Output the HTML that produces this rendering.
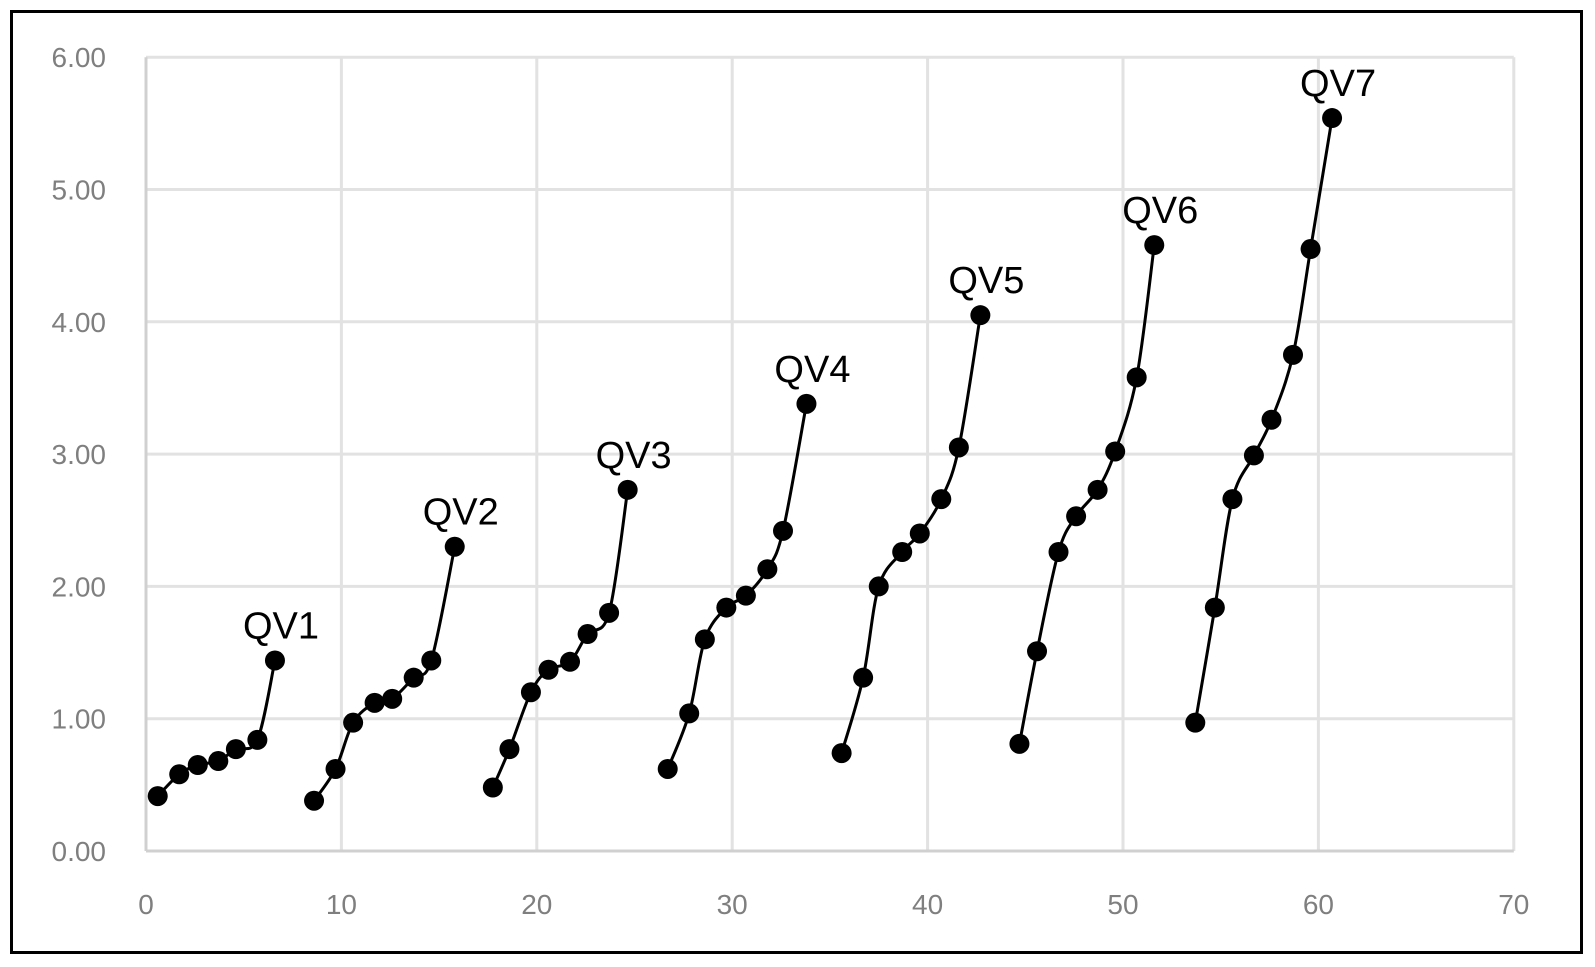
<!DOCTYPE html>
<html><head><meta charset="utf-8"><style>
html,body{margin:0;padding:0;background:#fff;}
svg{display:block;}
text{font-family:"Liberation Sans","DejaVu Sans",sans-serif;}
</style></head><body>
<svg id="c" width="1595" height="967" xmlns="http://www.w3.org/2000/svg"></svg>
<script>
const svg=document.getElementById('c');
const x0=146,sx=19.54,y0=851,sy=132.3;
const X=v=>x0+v*sx, Y=v=>y0-v*sy;
let h='<rect x="0" y="0" width="1595" height="967" fill="#fff"/>';
h+='<rect x="11.5" y="11.5" width="1570" height="941" fill="none" stroke="#000" stroke-width="3"/>';
for(let i=1;i<=6;i++){h+=`<line x1="${x0}" x2="${X(70)}" y1="${Y(i)}" y2="${Y(i)}" stroke="#e2e2e2" stroke-width="3"/>`;}
for(let i=1;i<=7;i++){h+=`<line x1="${X(i*10)}" x2="${X(i*10)}" y1="${Y(6)}" y2="${y0}" stroke="#e2e2e2" stroke-width="3"/>`;}
h+=`<line x1="${x0}" x2="${x0}" y1="${Y(6)}" y2="${y0}" stroke="#d0d0d0" stroke-width="3"/>`;
h+=`<line x1="${x0}" x2="${X(70)}" y1="${y0}" y2="${y0}" stroke="#d0d0d0" stroke-width="3"/>`;
for(let i=0;i<=6;i++){h+=`<text x="106" y="${Y(i)+10}" font-size="28" fill="#7f7f7f" text-anchor="end">${i}.00</text>`;}
for(let i=0;i<=7;i++){h+=`<text x="${X(i*10)}" y="914" font-size="28" fill="#7f7f7f" text-anchor="middle">${i*10}</text>`;}
const S=[
[[0.6,0.415],[1.7,0.58],[2.65,0.65],[3.7,0.68],[4.6,0.77],[5.7,0.84],[6.6,1.44]],
[[8.6,0.38],[9.7,0.62],[10.6,0.97],[11.7,1.12],[12.6,1.15],[13.7,1.31],[14.6,1.44],[15.8,2.30]],
[[17.75,0.48],[18.6,0.77],[19.7,1.20],[20.6,1.37],[21.7,1.43],[22.6,1.64],[23.7,1.80],[24.65,2.73]],
[[26.7,0.62],[27.8,1.04],[28.6,1.6],[29.7,1.84],[30.7,1.93],[31.8,2.13],[32.6,2.42],[33.8,3.38]],
[[35.6,0.74],[36.7,1.31],[37.5,2.0],[38.7,2.26],[39.6,2.40],[40.7,2.66],[41.6,3.05],[42.7,4.05]],
[[44.7,0.81],[45.6,1.51],[46.7,2.26],[47.6,2.53],[48.7,2.73],[49.6,3.02],[50.7,3.58],[51.6,4.58]],
[[53.7,0.97],[54.7,1.84],[55.6,2.66],[56.7,2.99],[57.6,3.26],[58.7,3.75],[59.6,4.55],[60.7,5.54]]
];
S.forEach((s,k)=>{
 const p=s.map(a=>[X(a[0]),Y(a[1])]);
 let d=`M${p[0][0]},${p[0][1]}`;
 for(let i=0;i<p.length-1;i++){
  const a=p[Math.max(i-1,0)],b=p[i],c=p[i+1],e=p[Math.min(i+2,p.length-1)];
  const c1=[b[0]+(c[0]-a[0])/6,b[1]+(c[1]-a[1])/6],c2=[c[0]-(e[0]-b[0])/6,c[1]-(e[1]-b[1])/6];
  d+=` C${c1[0]},${c1[1]} ${c2[0]},${c2[1]} ${c[0]},${c[1]}`;
 }
 h+=`<path d="${d}" fill="none" stroke="#000" stroke-width="3"/>`;
 p.forEach(q=>{h+=`<circle cx="${q[0]}" cy="${q[1]}" r="10" fill="#000"/>`;});
 const t=p[p.length-1];
 h+=`<text x="${t[0]+6}" y="${t[1]-22}" font-size="38" fill="#000" text-anchor="middle">QV${k+1}</text>`;
});
svg.innerHTML=h;
</script>
</body></html>
